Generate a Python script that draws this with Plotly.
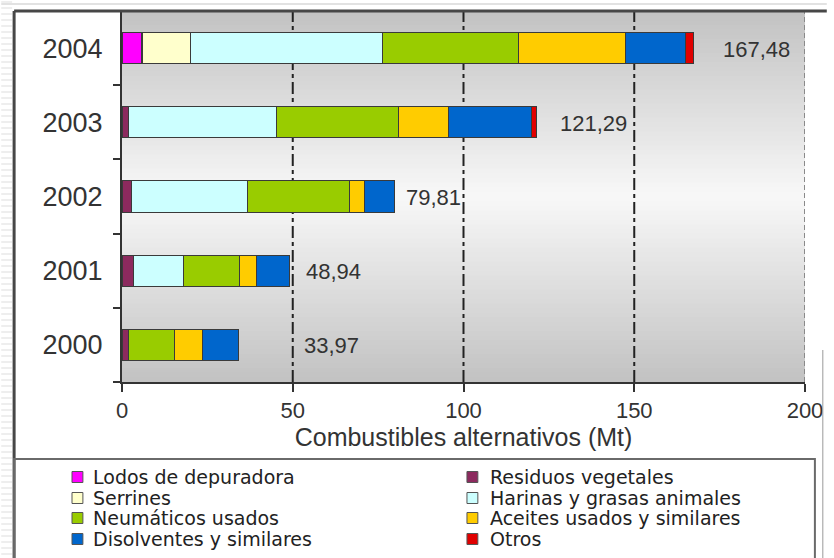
import plotly.graph_objects as go

# --- data -------------------------------------------------------------
years = ["2000", "2001", "2002", "2003", "2004"]

lodos = [None, None, None, None, 5.6]
residuos = [2.0, 3.4, 2.9, 1.9, 0.4]
serrines = [None, None, None, None, 14.0]
harinas = [None, 14.5, 33.8, 43.4, 56.2]
neumaticos = [13.3, 16.5, 30.0, 35.8, 39.8]
aceites = [8.4, 4.9, 4.3, 14.4, 31.5]
disolventes = [10.27, 9.64, 8.81, 24.5, 17.6]
otros = [None, None, None, 1.29, 2.38]

totals = [33.97, 48.94, 79.81, 121.29, 167.48]

series_names = [
    "Lodos de depuradora", "Residuos vegetales", "Serrines",
    "Harinas y grasas animales", "Neumáticos usados",
    "Aceites usados y similares", "Disolventes y similares", "Otros",
]
series_values = [lodos, residuos, serrines, harinas, neumaticos,
                 aceites, disolventes, otros]
series_colors = ["#FF00FF", "#8C2A5E", "#FFFFCC", "#CCFFFF", "#99CC00",
                 "#FFCC00", "#0066CC", "#E00000"]

x_ticks = [0, 50, 100, 150, 200]
x_title = "Combustibles alternativos (Mt)"

# --- geometry helpers (page pixels -> paper coordinates) ---------------
W, H = 834, 558
L, R, T, B = 122, 22, 11, 176
PW, PH = W - L - R, H - T - B


def px(x):
    return (x - L) / PW


def py(y):
    return (H - B - y) / PH


FONT = "Liberation Sans, Arial, sans-serif"
LEGEND_FONT = "DejaVu Sans, Liberation Sans, sans-serif"

fig = go.Figure()
for name, vals, col in zip(series_names, series_values, series_colors):
    fig.add_trace(go.Bar(
        y=years, x=vals, name=name, orientation="h",
        marker=dict(color=col, line=dict(color="#3a3a3a", width=1)),
        width=0.42, showlegend=False,
    ))

shapes = []

# vertical grey-white-grey gradient behind the bars (overlapping bands)
n_bands = 80
for i in range(n_bands):
    t0, t1 = i / n_bands, (i + 1) / n_bands
    tm = (t0 + t1) / 2
    g = int(round(248 - 54 * abs(tm - 0.5) / 0.5))
    shapes.append(dict(type="rect", xref="paper", yref="paper",
                       x0=0, x1=1, y0=t0, y1=min(1.0, t1 + 0.6 / n_bands),
                       layer="below", line=dict(width=0),
                       fillcolor=f"rgb({g},{g},{g})"))

# grid lines
for v in x_ticks[1:-1]:
    shapes.append(dict(type="line", xref="x", yref="paper", x0=v, x1=v,
                       y0=0, y1=1, layer="below",
                       line=dict(color="#222222", width=2,
                                 dash="12px,4px,4px,4px")))
shapes.append(dict(type="line", xref="x", yref="paper", x0=x_ticks[-1],
                   x1=x_ticks[-1], y0=0, y1=1, layer="below",
                   line=dict(color="#8a8a8a", width=2, dash="5px,3px")))

# background stripes at the left edge and the top
for yy in range(2, H, 6):
    shapes.append(dict(type="line", xref="paper", yref="paper",
                       x0=px(0), x1=px(11), y0=py(yy), y1=py(yy),
                       line=dict(color="#dddddd", width=1)))
shapes.append(dict(type="line", xref="paper", yref="paper",
                   x0=px(0), x1=px(W), y0=py(4), y1=py(4),
                   line=dict(color="#e2e2e2", width=2)))

# outer frame
shapes.append(dict(type="line", xref="paper", yref="paper",
                   x0=px(13), x1=px(W), y0=py(11), y1=py(11),
                   line=dict(color="#474747", width=3)))
shapes.append(dict(type="line", xref="paper", yref="paper",
                   x0=px(13), x1=px(13), y0=py(11), y1=py(H + 5),
                   line=dict(color="#474747", width=3)))
shapes.append(dict(type="line", xref="paper", yref="paper",
                   x0=px(830), x1=px(830), y0=py(350), y1=py(H + 5),
                   line=dict(color="#9a9a9a", width=1)))

# legend box
shapes.append(dict(type="rect", xref="paper", yref="paper",
                   x0=px(13), x1=px(822), y0=py(459), y1=py(H + 10),
                   line=dict(color="#6a6a6a", width=2)))

annotations = []

# legend entries, two columns, row-major order
col_sq = [77, 476]
col_tx = [92, 493]
row_y = [477, 498, 518, 539]
for i, (name, col) in enumerate(zip(series_names, series_colors)):
    r, c = divmod(i, 2)
    cx, cy = col_sq[c], row_y[r]
    shapes.append(dict(type="rect", xref="paper", yref="paper",
                       x0=px(cx - 5.5), x1=px(cx + 5.5),
                       y0=py(cy + 5.5), y1=py(cy - 5.5),
                       fillcolor=col, line=dict(color="#555555", width=1)))
    annotations.append(dict(xref="paper", yref="paper", x=px(col_tx[c]),
                            y=py(cy), text=name, showarrow=False,
                            xanchor="left", yanchor="middle", borderpad=0,
                            font=dict(family=LEGEND_FONT, size=19,
                                      color="#222222")))

# total labels beside each bar (pixel offset from the bar end)
label_shift = [64, 15, 9, 22, 27]
for idx, (tot, sh) in enumerate(zip(totals, label_shift)):
    annotations.append(dict(xref="x", yref="y", x=tot, y=idx,
                            text=f"{tot:.2f}".replace(".", ","),
                            showarrow=False, xanchor="left",
                            yanchor="middle", xshift=sh, yshift=-1,
                            font=dict(family=FONT, size=22, color="#333333")))

fig.update_layout(
    barmode="stack",
    width=W, height=H,
    margin=dict(l=L, r=R, t=T, b=B, pad=0),
    paper_bgcolor="white",
    plot_bgcolor="rgba(0,0,0,0)",
    shapes=shapes,
    annotations=annotations,
    showlegend=False,
    font=dict(family=FONT, color="#333333"),
)
fig.update_xaxes(
    range=[0, 200], tickvals=x_ticks, showgrid=False, zeroline=False,
    showline=True, linecolor="#333333", linewidth=2,
    ticks="outside", ticklen=8, tickwidth=2, tickcolor="#333333",
    tickfont=dict(family=FONT, size=22, color="#333333"),
    title=dict(text=x_title, standoff=4,
               font=dict(family=FONT, size=25, color="#333333")),
)
fig.update_yaxes(
    type="category", categoryorder="array", categoryarray=years,
    range=[-0.5, 4.5], showgrid=False, zeroline=False,
    showline=True, linecolor="#333333", linewidth=2,
    ticks="outside", tickson="boundaries", ticklen=7, tickwidth=2,
    tickcolor="#333333", ticklabelstandoff=12,
    tickfont=dict(family=FONT, size=27, color="#333333"),
)

fig.write_html("out.html")
